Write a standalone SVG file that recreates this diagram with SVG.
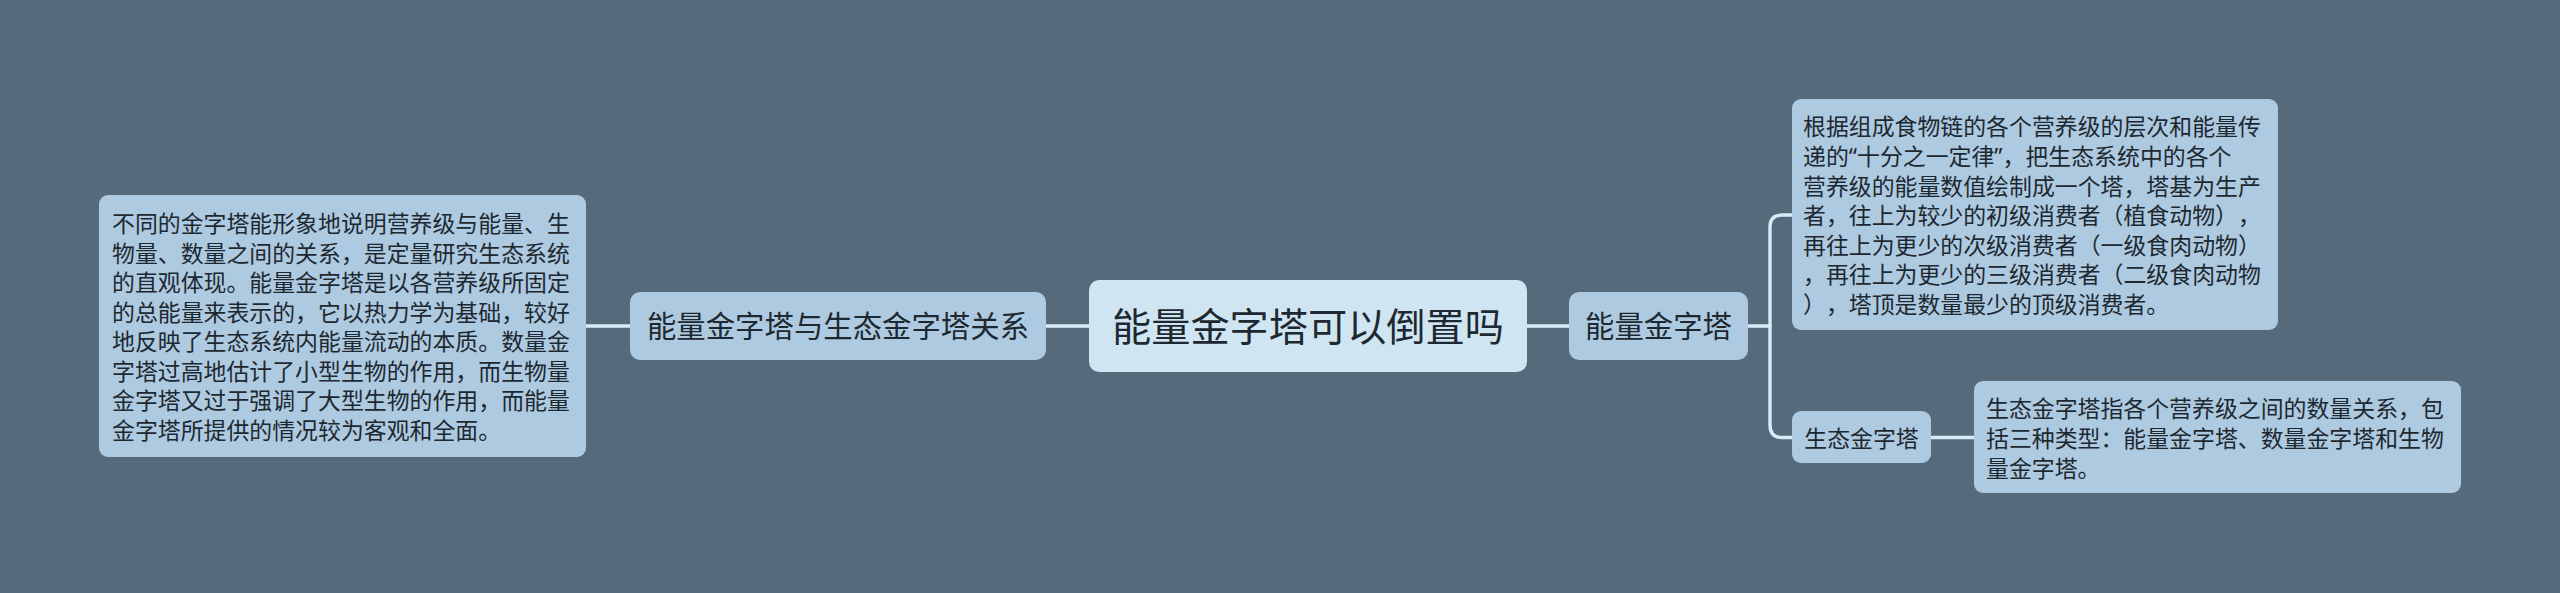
<svg xmlns="http://www.w3.org/2000/svg" width="2560" height="593" viewBox="0 0 2560 593">
<style>
.bg{fill:#556a7a}
.n{fill:#adcae0}
.r{fill:#cfe5f2}
.t{font-family:"Noto Sans CJK SC","Noto Sans",sans-serif;fill:#1e2830;text-spacing-trim:space-all}
.q{font-family:"Noto Sans","Noto Sans CJK SC",sans-serif}
.s{font-size:22.9px}
.m{font-size:29.4px}
.l{font-size:39.2px}
.c{fill:none;stroke:#d6ecf7;stroke-width:3.4;stroke-linecap:round}
</style>
<rect class="bg" x="0" y="0" width="2560" height="593"/>
<g id="connectors">
<path class="c" d="M586,326 H630"/>
<path class="c" d="M1046,326 H1089"/>
<path class="c" d="M1527,326 H1569"/>
<path class="c" d="M1748,326 H1770"/>
<path class="c" d="M1792,215 H1782 Q1770,215 1770,227 V425 Q1770,437.5 1782,437.5 H1792"/>
<path class="c" d="M1931,437.5 H1974"/>
</g>
<g id="root">
<rect class="r" x="1089" y="280" width="438" height="92" rx="10"/>
<text class="t l" x="1308" y="340.6" text-anchor="middle">能量金字塔可以倒置吗</text>
</g>
<g id="relation">
<rect class="n" x="630" y="292" width="416" height="68" rx="10"/>
<text class="t m" x="838" y="337" text-anchor="middle">能量金字塔与生态金字塔关系</text>
</g>
<g id="relation-detail">
<rect class="n" x="99" y="195" width="487" height="262" rx="9"/>
<text class="t s">
<tspan x="112" y="232">不同的金字塔能形象地说明营养级与能量、生</tspan>
<tspan x="112" y="261.5">物量、数量之间的关系，是定量研究生态系统</tspan>
<tspan x="112" y="291">的直观体现。能量金字塔是以各营养级所固定</tspan>
<tspan x="112" y="320.5">的总能量来表示的，它以热力学为基础，较好</tspan>
<tspan x="112" y="350">地反映了生态系统内能量流动的本质。数量金</tspan>
<tspan x="112" y="379.5">字塔过高地估计了小型生物的作用，而生物量</tspan>
<tspan x="112" y="409">金字塔又过于强调了大型生物的作用，而能量</tspan>
<tspan x="112" y="438.5">金字塔所提供的情况较为客观和全面。</tspan>
</text>
</g>
<g id="energy">
<rect class="n" x="1569" y="292" width="179" height="68" rx="10"/>
<text class="t m" x="1658.5" y="337" text-anchor="middle">能量金字塔</text>
</g>
<g id="energy-detail">
<rect class="n" x="1792" y="99" width="486" height="231" rx="9"/>
<text class="t s">
<tspan x="1803" y="135.4">根据组成食物链的各个营养级的层次和能量传</tspan>
<tspan x="1803" y="165">递的<tspan class="q">“</tspan>十分之一定律<tspan class="q">”</tspan>，把生态系统中的各个</tspan>
<tspan x="1803" y="194.6">营养级的能量数值绘制成一个塔，塔基为生产</tspan>
<tspan x="1803" y="224.2">者，往上为较少的初级消费者（植食动物），</tspan>
<tspan x="1803" y="253.8">再往上为更少的次级消费者（一级食肉动物）</tspan>
<tspan x="1803" y="283.4">，再往上为更少的三级消费者（二级食肉动物</tspan>
<tspan x="1803" y="313">），塔顶是数量最少的顶级消费者。</tspan>
</text>
</g>
<g id="eco">
<rect class="n" x="1792" y="411" width="139" height="52" rx="9"/>
<text class="t s" x="1861.5" y="447" text-anchor="middle">生态金字塔</text>
</g>
<g id="eco-detail">
<rect class="n" x="1974" y="381" width="487" height="112" rx="9"/>
<text class="t s">
<tspan x="1986" y="417">生态金字塔指各个营养级之间的数量关系，包</tspan>
<tspan x="1986" y="447">括三种类型：能量金字塔、数量金字塔和生物</tspan>
<tspan x="1986" y="477">量金字塔。</tspan>
</text>
</g>
</svg>
